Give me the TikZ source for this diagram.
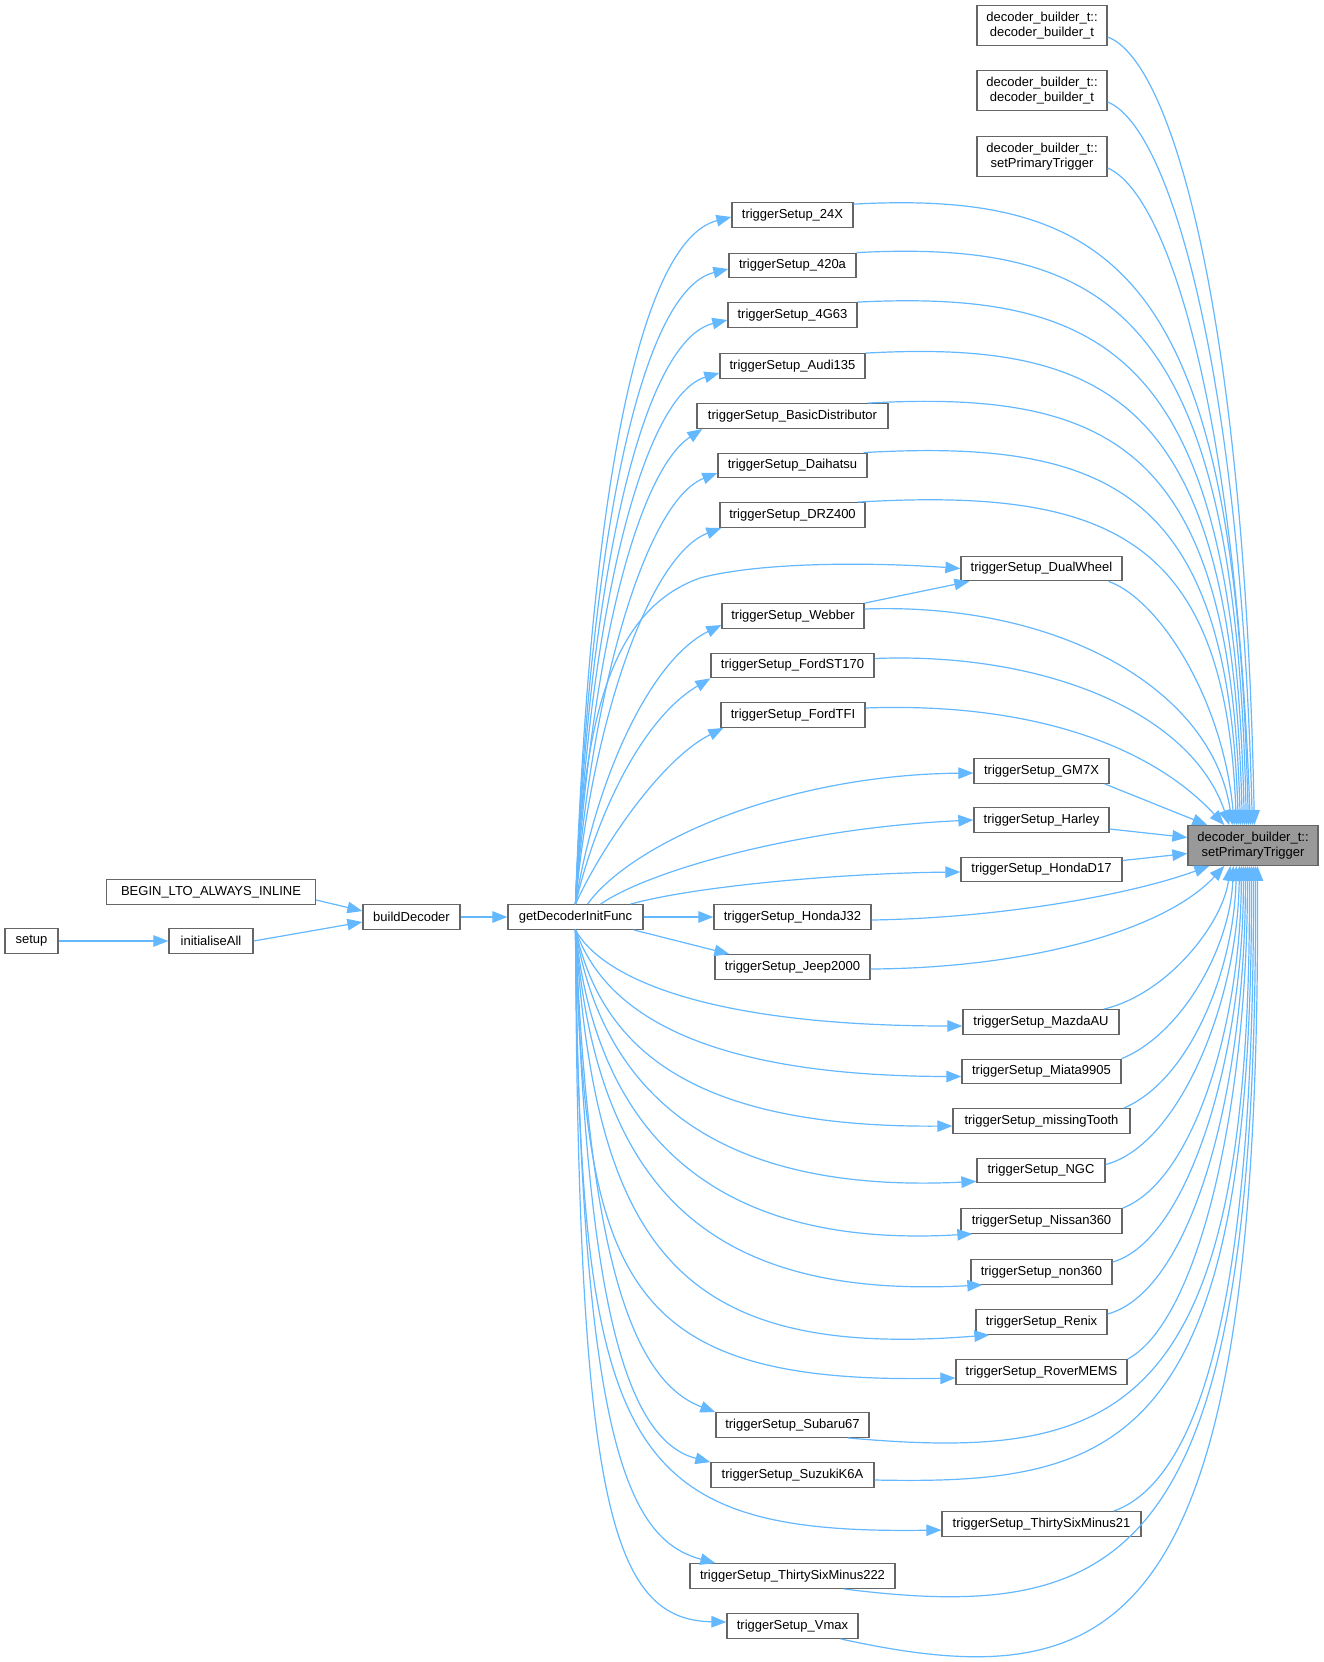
\documentclass[tikz,border=0pt]{standalone}
\usepackage{fontspec}
\setmainfont{Liberation Sans}
\usetikzlibrary{arrows.meta,calc}
\definecolor{edgeblue}{HTML}{63B8FF}
\definecolor{boxgray}{HTML}{666666}
\definecolor{tgtfill}{HTML}{999999}
\begin{document}
\begin{tikzpicture}[x=1pt,y=-1pt,
  box/.style={draw=boxgray,fill=white,line width=1.3pt,inner sep=0pt,minimum height=24.5pt,font=\fontsize{13}{15}\selectfont,text=black},
  box2/.style={box,minimum height=39.5pt,align=center},
  e/.style={draw=edgeblue,line width=1.2pt,-{Triangle[length=15pt,width=11.5pt,fill=edgeblue]}}]
\useasboundingbox[fill=white] (0,0) rectangle (1323,1662);
% nodes
\node[box2,minimum width=130pt] (d1) at (1042,25.5) {decoder\_builder\_t::\\decoder\_builder\_t};
\node[box2,minimum width=130pt] (d2) at (1042,90.5) {decoder\_builder\_t::\\decoder\_builder\_t};
\node[box2,minimum width=130pt] (d3) at (1042,156.5) {decoder\_builder\_t::\\setPrimaryTrigger};
\node[box2,minimum width=130pt,fill=tgtfill] (T) at (1253,845.5) {decoder\_builder\_t::\\setPrimaryTrigger};
\node[box,minimum width=121pt] (x24) at (792.5,215) {triggerSetup\_24X};
\node[box,minimum width=127pt] (x420) at (792.5,265.5) {triggerSetup\_420a};
\node[box,minimum width=129pt] (g63) at (792.5,315) {triggerSetup\_4G63};
\node[box,minimum width=145pt] (audi) at (792.5,366) {triggerSetup\_Audi135};
\node[box,minimum width=191pt] (basic) at (792.5,416) {triggerSetup\_BasicDistributor};
\node[box,minimum width=149pt] (daih) at (792.5,465.5) {triggerSetup\_Daihatsu};
\node[box,minimum width=145pt] (drz) at (792.5,515) {triggerSetup\_DRZ400};
\node[box,minimum width=142pt] (web) at (793,616) {triggerSetup\_Webber};
\node[box,minimum width=163pt] (st170) at (792.5,665.5) {triggerSetup\_FordST170};
\node[box,minimum width=144pt] (tfi) at (793,715) {triggerSetup\_FordTFI};
\node[box,minimum width=157pt] (hj) at (792.5,917) {triggerSetup\_HondaJ32};
\node[box,minimum width=155pt] (jeep) at (792.5,967) {triggerSetup\_Jeep2000};
\node[box,minimum width=153pt] (sub) at (792.5,1425) {triggerSetup\_Subaru67};
\node[box,minimum width=163pt] (suz) at (792.5,1475) {triggerSetup\_SuzukiK6A};
\node[box,minimum width=205pt] (t222) at (792.5,1576) {triggerSetup\_ThirtySixMinus222};
\node[box,minimum width=131pt] (vmax) at (792.5,1626) {triggerSetup\_Vmax};
\node[box,minimum width=161pt] (dual) at (1041.5,568.5) {triggerSetup\_DualWheel};
\node[box,minimum width=135pt] (gm) at (1041.5,771) {triggerSetup\_GM7X};
\node[box,minimum width=135pt] (harl) at (1041.5,820) {triggerSetup\_Harley};
\node[box,minimum width=161pt] (hd) at (1041.5,869.5) {triggerSetup\_HondaD17};
\node[box,minimum width=156pt] (mazda) at (1041,1022) {triggerSetup\_MazdaAU};
\node[box,minimum width=159pt] (miata) at (1041.5,1071.5) {triggerSetup\_Miata9905};
\node[box,minimum width=177pt] (miss) at (1041.5,1121) {triggerSetup\_missingTooth};
\node[box,minimum width=128pt] (ngc) at (1041,1170.5) {triggerSetup\_NGC};
\node[box,minimum width=161pt] (nis) at (1041.5,1221) {triggerSetup\_Nissan360};
\node[box,minimum width=141pt] (non) at (1041.5,1272) {triggerSetup\_non360};
\node[box,minimum width=131pt] (ren) at (1041.5,1322) {triggerSetup\_Renix};
\node[box,minimum width=171pt] (rov) at (1041.5,1372) {triggerSetup\_RoverMEMS};
\node[box,minimum width=199pt] (t21) at (1041.5,1524) {triggerSetup\_ThirtySixMinus21};
\node[box,minimum width=135pt] (G) at (575.5,917) {getDecoderInitFunc};
\node[box,minimum width=97pt] (bd) at (411.5,917) {buildDecoder};
\node[box,minimum width=209pt] (begin) at (211,892) {BEGIN\_LTO\_ALWAYS\_INLINE};
\node[box,minimum width=84pt] (init) at (211,941) {initialiseAll};
\node[box,minimum width=53pt] (setup) at (31.5,941) {setup};
% left chain
\draw[e] (setup) -- (init);
\draw[e] (init.east) -- ($(bd.west)+(0,5)$);
\draw[e] ($(begin.east)+(0,8)$) -- ($(bd.west)+(0,-6)$);
\draw[e] (bd) -- (G);
% G to upper middle column
\draw[e] (G.north) .. controls (590,490) and (640,240) .. ($(x24.west)+(0,2)$);
\draw[e] (G.north) .. controls (590,530) and (642,290) .. ($(x420.west)+(0,3.5)$);
\draw[e] (G.north) .. controls (590,560) and (645,340) .. ($(g63.west)+(0,5)$);
\draw[e] (G.north) .. controls (590,600) and (645,395) .. ($(audi.west)+(0,7)$);
\draw[e] (G.north) .. controls (592,640) and (640,470) .. ($(basic.south west)+(6,0)$);
\draw[e] (G.north) .. controls (592,680) and (648,500) .. ($(daih.west)+(0,7.5)$);
\draw[e] (G.north) .. controls (592,720) and (650,555) .. ($(drz.south west)+(2,0)$);
\draw[e] (G.north) .. controls (583,720) and (610,610) .. (700,578) .. controls (760,562) and (870,562) .. (dual.west);
\draw[e] (G.north) .. controls (595,780) and (650,660) .. ($(web.west)+(0,9)$);
\draw[e] (G.north) .. controls (595,820) and (640,720) .. (st170.south west);
\draw[e] (G.north) .. controls (600,850) and (660,760) .. ($(tfi.south west)+(3,0)$);
\draw[e] ($(G.north)+(12,0)$) .. controls (630,845) and (780,775) .. ($(gm.west)+(0,2)$);
\draw[e] ($(G.north)+(25,0)$) .. controls (650,870) and (800,828) .. (harl.west);
\draw[e] ($(G.north)+(55,0)$) .. controls (700,885) and (850,873) .. ($(hd.west)+(0,2.5)$);
\draw[e] (G.east) -- (hj.west);
\draw[e] ($(G.south east)+(-10,0)$) -- ($(jeep.north west)+(15,0)$);
\draw[e] (web.north east) -- ($(dual.south west)+(9,0)$);
% G to lower
\draw[e] (G.south) .. controls (600,975) and (700,1026) .. ($(mazda.west)+(0,4)$);
\draw[e] (G.south) .. controls (600,1000) and (680,1076) .. ($(miata.west)+(0,5)$);
\draw[e] (G.south) .. controls (600,1040) and (680,1128) .. ($(miss.west)+(0,5)$);
\draw[e] (G.south) .. controls (600,1080) and (700,1195) .. ($(ngc.south west)+(0,-2)$);
\draw[e] (G.south) .. controls (595,1120) and (700,1250) .. ($(nis.south west)+(12,0)$);
\draw[e] (G.south) .. controls (595,1180) and (700,1300) .. ($(non.south west)+(12,0)$);
\draw[e] (G.south) .. controls (595,1250) and (680,1360) .. ($(ren.south west)+(14,0)$);
\draw[e] (G.south) .. controls (585,1280) and (620,1385) .. ($(rov.west)+(0,6)$);
\draw[e] (G.south) .. controls (588,1250) and (630,1380) .. (sub.north west);
\draw[e] (G.south) .. controls (586,1300) and (625,1440) .. (suz.north west);
\draw[e] (G.south) .. controls (580,1450) and (620,1535) .. ($(t21.west)+(0,6)$);
\draw[e] (G.south) .. controls (580,1450) and (630,1540) .. ($(t222.north west)+(26,0)$);
\draw[e] (G.south) .. controls (578,1500) and (610,1620) .. ($(vmax.west)+(0,-4)$);
% into target from above
\draw[e] ($(d1.east)+(0,11.5)$) .. controls (1175,62) and (1245,330) .. ($(T.north west)+(67,0)$);
\draw[e] ($(d2.east)+(0,11.5)$) .. controls (1172,128) and (1241,380) .. ($(T.north west)+(65,0)$);
\draw[e] ($(d3.east)+(0,11.5)$) .. controls (1170,195) and (1236,420) .. ($(T.north west)+(63,0)$);
\draw[e] ($(x24.north east)+(0,2)$) .. controls (1120,190) and (1236,279) .. ($(T.north west)+(61,0)$);
\draw[e] (x420.north east) .. controls (1120,239) and (1236,322) .. ($(T.north west)+(59,0)$);
\draw[e] (g63.north east) .. controls (1119,289) and (1234,366) .. ($(T.north west)+(57,0)$);
\draw[e] (audi.north east) .. controls (1120,339) and (1232,410) .. ($(T.north west)+(55,0)$);
\draw[e] ($(basic.north east)+(-21,0)$) .. controls (1120,389) and (1230,454) .. ($(T.north west)+(53,0)$);
\draw[e] ($(daih.north east)+(-4,0)$) .. controls (1117,438) and (1228,497) .. ($(T.north west)+(51,0)$);
\draw[e] ($(drz.north east)+(-8,0)$) .. controls (1114,487) and (1226,540) .. ($(T.north west)+(49,0)$);
\draw[e] ($(dual.south east)+(-14,0)$) .. controls (1160,600) and (1223,700) .. ($(T.north west)+(47,0)$);
\draw[e] ($(web.east)+(0,-7)$) .. controls (1060,602) and (1213,690) .. ($(T.north west)+(45,0)$);
\draw[e] ($(st170.east)+(0,-7)$) .. controls (1040,652) and (1190,710) .. ($(T.north west)+(42,0)$);
\draw[e] ($(tfi.east)+(0,-7)$) .. controls (1030,702) and (1150,745) .. ($(T.north west)+(37,0)$);
\draw[e] ($(gm.south east)+(-5,0)$) -- ($(T.north west)+(20,0)$);
\draw[e] ($(harl.east)+(0,9)$) -- ($(T.west)+(0,-8)$);
\draw[e] ($(hd.east)+(0,-9)$) -- ($(T.west)+(0,8)$);
% into target from below
\draw[e] ($(hj.east)+(0,3)$) .. controls (1000,918) and (1130,895) .. ($(T.south west)+(22,0)$);
\draw[e] ($(jeep.east)+(0,2)$) .. controls (1030,968) and (1165,930) .. ($(T.south west)+(37,0)$);
\draw[e] ($(mazda.north east)+(-16,0)$) .. controls (1168,994) and (1223,923) .. ($(T.south west)+(43,0)$);
\draw[e] (miata.north east) .. controls (1180,1035) and (1230,950) .. ($(T.south west)+(46,0)$);
\draw[e] ($(miss.north east)+(-7,0)$) .. controls (1190,1080) and (1234,970) .. ($(T.south west)+(49,0)$);
\draw[e] ($(ngc.east)+(0,-6)$) .. controls (1180,1145) and (1238,1000) .. ($(T.south west)+(52,0)$);
\draw[e] (nis.north east) .. controls (1195,1180) and (1241,1020) .. ($(T.south west)+(54,0)$);
\draw[e] ($(non.east)+(0,-10)$) .. controls (1190,1240) and (1244,1050) .. ($(T.south west)+(56,0)$);
\draw[e] ($(ren.east)+(0,-8)$) .. controls (1195,1290) and (1246,1080) .. ($(T.south west)+(58,0)$);
\draw[e] (rov.north east) .. controls (1200,1320) and (1248,1100) .. ($(T.south west)+(60,0)$);
\draw[e] ($(sub.south east)+(-22,0)$) .. controls (1120,1462) and (1252,1420) .. ($(T.south west)+(62,0)$);
\draw[e] ($(suz.east)+(0,5)$) .. controls (1120,1485) and (1254,1450) .. ($(T.south west)+(64,0)$);
\draw[e] ($(t21.north east)+(-28,0)$) .. controls (1200,1480) and (1255,1300) .. ($(T.south west)+(66,0)$);
\draw[e] ($(t222.south east)+(-52,0)$) .. controls (1130,1625) and (1259,1560) .. ($(T.south west)+(68,0)$);
\draw[e] ($(vmax.south east)+(-18,0)$) .. controls (1120,1700) and (1262,1640) .. ($(T.south west)+(70,0)$);
\end{tikzpicture}
\end{document}
